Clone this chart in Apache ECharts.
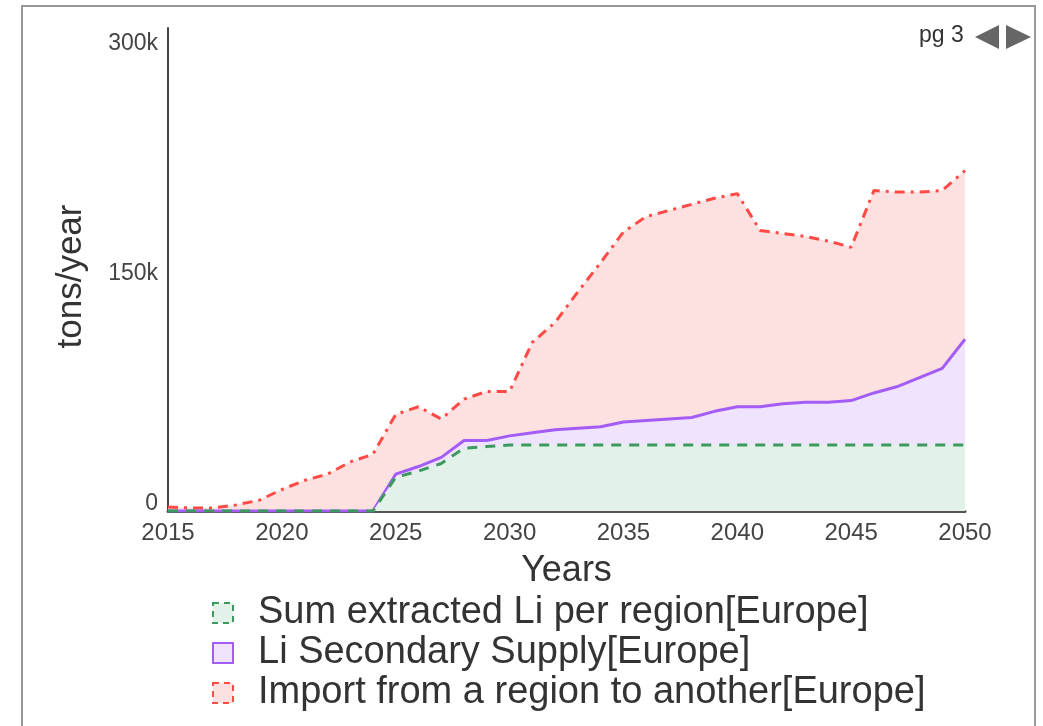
<!DOCTYPE html>
<html>
<head>
<meta charset="utf-8">
<script src="https://cdn.jsdelivr.net/npm/echarts@6/dist/echarts.min.js"></script>
<style>
  html, body { margin: 0; padding: 0; background: #fff; }
  #chart { width: 1043px; height: 726px; }
</style>
</head>
<body>
<div id="chart"></div>
<script>
// years on the x axis
const years = [2015, 2016, 2017, 2018, 2019, 2020, 2021, 2022, 2023, 2024,
  2025, 2026, 2027, 2028, 2029, 2030, 2031, 2032, 2033, 2034,
  2035, 2036, 2037, 2038, 2039, 2040, 2041, 2042, 2043, 2044,
  2045, 2046, 2047, 2048, 2049, 2050];

// plotted (stacked) totals, in tons/year
const extractedLi = [0, 0, 0, 0, 0, 0, 0, 0, 0, 0,
  22000, 26000, 31000, 41000, 42000, 43000, 43000, 43000, 43000, 43000,
  43000, 43000, 43000, 43000, 43000, 43000, 43000, 43000, 43000, 43000,
  43000, 43000, 43000, 43000, 43000, 43000];
const secondarySupply = [0, 0, 0, 0, 0, 0, 0, 0, 0, 0,
  24000, 29000, 35000, 46000, 46000, 49000, 51000, 53000, 54000, 55000,
  58000, 59000, 60000, 61000, 65000, 68000, 68000, 70000, 71000, 71000,
  72000, 77000, 81000, 87000, 93000, 112000];
const importEurope = [2600, 2000, 2000, 4000, 7000, 14000, 20000, 24000, 32000, 37000,
  63000, 68000, 60000, 73000, 78000, 78000, 110000, 123000, 143000, 162000,
  182000, 192000, 196000, 200000, 204000, 207000, 183000, 181000, 179000, 176000,
  172000, 209000, 208000, 208000, 209000, 222000];

const seriesNames = [
  'Sum extracted Li per region[Europe]',
  'Li Secondary Supply[Europe]',
  'Import from a region to another[Europe]'
];
const yTicks = [0, 150000, 300000];
const yTickLabels = ['0', '150k', '300k'];

const font = '"Liberation Sans", Arial, sans-serif';
const pair = (arr) => years.map((y, i) => [y, arr[i]]);

const chart = echarts.init(document.getElementById('chart'));

chart.setOption({
  animation: false,
  textStyle: { fontFamily: font },
  grid: { left: 168, right: 78, top: 28, bottom: 215 },
  xAxis: {
    type: 'value',
    min: 2015,
    max: 2050,
    interval: 5,
    name: 'Years',
    nameLocation: 'middle',
    nameGap: 42,
    nameTextStyle: { fontSize: 36, color: '#333', fontFamily: font },
    axisLine: { lineStyle: { color: '#555', width: 3 } },
    axisTick: { show: false },
    splitLine: { show: false },
    axisLabel: { fontSize: 24, color: '#444', margin: 10, fontFamily: font,
      formatter: (v) => String(v) }
  },
  yAxis: {
    type: 'value',
    min: 0,
    max: 315000,
    interval: 150000,
    name: 'tons/year',
    nameLocation: 'middle',
    nameGap: 79,
    nameTextStyle: { fontSize: 35, color: '#333', fontFamily: font, padding: [0, 14, 0, 0] },
    axisLine: { show: true, lineStyle: { color: '#444', width: 2 } },
    axisTick: { show: false },
    splitLine: { show: false },
    axisLabel: {
      fontSize: 23, color: '#444', margin: 10, verticalAlign: 'bottom', lineHeight: 14,
      fontFamily: font,
      formatter: (v) => {
        const i = yTicks.indexOf(v);
        return i >= 0 ? yTickLabels[i] : '';
      }
    }
  },
  legend: {
    orient: 'vertical',
    left: 207,
    top: 589,
    itemWidth: 20,
    itemHeight: 20,
    itemGap: 2,
    textStyle: { fontSize: 38, color: '#333', fontFamily: font, padding: [0, 0, 0, 20] },
    data: [
      { name: seriesNames[0], icon: 'rect',
        itemStyle: { color: '#e2f2e9', borderColor: '#3c9a5f', borderWidth: 2, borderType: [6, 5] } },
      { name: seriesNames[1], icon: 'rect',
        itemStyle: { color: '#efe3fe', borderColor: '#a35cf6', borderWidth: 2 } },
      { name: seriesNames[2], icon: 'rect',
        itemStyle: { color: '#fde0e0', borderColor: '#ff4a45', borderWidth: 2, borderType: [6, 5] } }
    ]
  },
  graphic: [
    { type: 'rect', shape: { x: 22, y: 6, width: 1013, height: 760 },
      style: { fill: 'none', stroke: '#999', lineWidth: 2 }, silent: true },
    { type: 'text', left: 919, top: 24,
      style: { text: 'pg 3', font: '23px ' + font, fill: '#333' } },
    { type: 'polygon', shape: { points: [[999, 25], [999, 49], [975, 37]] },
      style: { fill: '#666' } },
    { type: 'polygon', shape: { points: [[1006, 25], [1006, 49], [1031, 37]] },
      style: { fill: '#666' } }
  ],
  series: [
    {
      name: seriesNames[2], type: 'line', data: pair(importEurope), z: 1,
      showSymbol: false, symbol: 'none',
      lineStyle: { color: '#ff4a45', width: 3, type: [10, 6, 3, 6] },
      itemStyle: { color: '#ff4a45' },
      areaStyle: { color: '#fde0e0', opacity: 1 }
    },
    {
      name: seriesNames[1], type: 'line', data: pair(secondarySupply), z: 2,
      showSymbol: false, symbol: 'none',
      lineStyle: { color: '#a35cf6', width: 3 },
      itemStyle: { color: '#a35cf6' },
      areaStyle: { color: '#efe3fe', opacity: 1 }
    },
    {
      name: seriesNames[0], type: 'line', data: pair(extractedLi), z: 3,
      showSymbol: false, symbol: 'none',
      lineStyle: { color: '#3c9a5f', width: 3, type: [10, 8] },
      itemStyle: { color: '#3c9a5f' },
      areaStyle: { color: '#e2f2e9', opacity: 1 }
    }
  ]
});
</script>
</body>
</html>
